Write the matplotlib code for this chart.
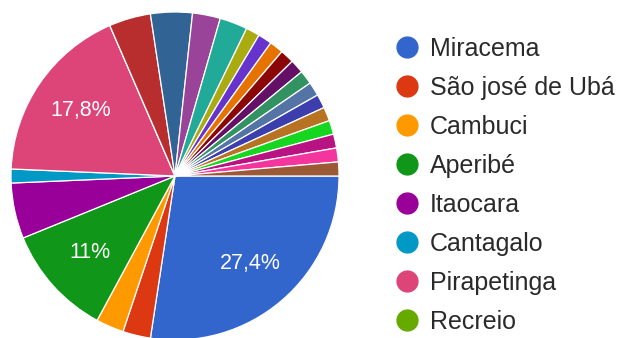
import matplotlib.pyplot as plt
from matplotlib.lines import Line2D

# respostas por município (contagem)
municipios = ["Miracema", "São josé de Ubá", "Cambuci", "Aperibé",
              "Itaocara", "Cantagalo", "Pirapetinga", "Recreio"]
respostas = [20, 2, 2, 8, 4, 1, 13, 0,
             3, 3, 2, 2, 1, 1, 1, 1, 1, 1, 1, 1, 1, 1, 1, 1, 1]

cores = ["#3366cc", "#dc3912", "#ff9900", "#109618", "#990099", "#0099c6",
         "#dd4477", "#66aa00", "#b82e2e", "#316395", "#994499", "#22aa99",
         "#aaaa11", "#6633cc", "#e67300", "#8b0707", "#651067", "#329262",
         "#5574a6", "#3b3eac", "#b77322", "#16d620", "#b91383", "#f4359e",
         "#9c5935"]

plt.rcParams['font.family'] = ['Liberation Sans', 'DejaVu Sans']

fig = plt.figure(figsize=(6.17, 3.38), dpi=100)
ax = fig.add_axes([11 / 617, -2 / 338, 328 / 617, 328 / 338])


def rotulo(p):
    # só as fatias grandes recebem rótulo, com vírgula decimal
    if p < 8:
        return ""
    s = f"{p:.1f}".replace(".", ",")
    if s.endswith(",0"):
        s = s[:-2]
    return s + "%"


wedges, textos, pcts = ax.pie(respostas, colors=cores, startangle=0,
                              counterclock=False, radius=1.0,
                              autopct=rotulo, pctdistance=0.7,
                              wedgeprops=dict(edgecolor="white", linewidth=0.9),
                              textprops=dict(color="white", fontsize=15.5))
ax.set_xlim(-1, 1)
ax.set_ylim(-1, 1)
ax.set_aspect("equal")
ax.axis("off")

handles = [Line2D([], [], linestyle="none", marker="o", markersize=15,
                  markerfacecolor=c, markeredgecolor=c)
           for c in cores[:len(municipios)]]
fig.legend(handles, municipios, loc="upper left",
           bbox_to_anchor=(392 / 617, 1 - 37 / 338), frameon=False,
           fontsize=18, handlelength=1.2, handletextpad=0.32,
           labelspacing=0.6, borderpad=0, borderaxespad=0,
           labelcolor="#2a2a2a")

fig.savefig("out.png", dpi=100)
